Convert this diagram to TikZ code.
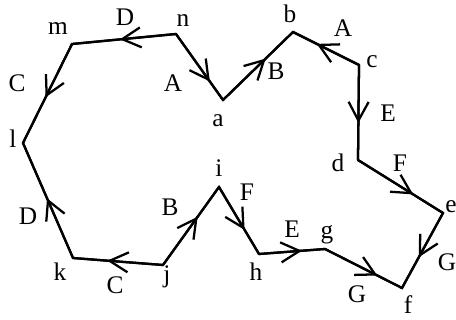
\documentclass[tikz,border=0pt]{standalone}
\usepackage{fontspec}
\setmainfont{Liberation Serif}
\usetikzlibrary{arrows.meta,decorations.markings}
\tikzset{flow/.style={postaction={decorate},
  decoration={markings,mark=at position #1 with {\arrow{Straight Barb[length=14pt,width=15pt]}}}},
  flow/.default=0.6,
  lbl/.style={font=\fontsize{19}{22}\selectfont,anchor=base,inner sep=0pt}}
\begin{document}
\begin{tikzpicture}[x=0.75pt,y=-0.75pt,line width=1.7pt]
\useasboundingbox (0,0) rectangle (456,320);
% corners of the loop
\coordinate (a) at (223,100);
\coordinate (b) at (293,32);
\coordinate (c) at (359,65);
\coordinate (d) at (358,160);
\coordinate (e) at (443,213);
\coordinate (f) at (402,288);
\coordinate (g) at (325,249);
\coordinate (h) at (259,254);
\coordinate (i) at (219,187);
\coordinate (j) at (163,265);
\coordinate (k) at (73,258);
\coordinate (l) at (23,143);
\coordinate (m) at (72,44);
\coordinate (n) at (176,34);
\draw (a)--(b)--(c)--(d)--(e)--(f)--(g)--(h)--(i)--(j)--(k)--(l)--(m)--(n)--cycle;
% directions
\draw[flow=0.54] (n)--(m);
\draw[flow=0.72] (n)--(a);
\draw[flow=0.61] (a)--(b);
\draw[flow=0.64] (c)--(b);
\draw[flow=0.61] (c)--(d);
\draw[flow=0.65] (d)--(e);
\draw[flow=0.59] (e)--(f);
\draw[flow=0.68] (g)--(f);
\draw[flow=0.65] (h)--(g);
\draw[flow=0.64] (i)--(h);
\draw[flow=0.62] (j)--(i);
\draw[flow=0.62] (j)--(k);
\draw[flow=0.52] (k)--(l);
\draw[flow=0.54] (m)--(l);
% corner labels
\node[lbl] (la) at (218,127) {a};
\node[lbl] (lb) at (290,23) {b};
\node[lbl] (lc) at (372,68) {c};
\node[lbl] (ld) at (338,172) {d};
\node[lbl] (le) at (451,212) {e};
\node[lbl] (lf) at (408,313) {f};
\node[lbl] (lg) at (327,238) {g};
\node[lbl] (lh) at (256,280) {h};
\node[lbl] (li) at (219,177) {i};
\node[lbl] (lj) at (167,282) {j};
\node[lbl] (lk) at (60,280) {k};
\node[lbl] (ll) at (13,148) {l};
\node[lbl] (lm) at (58,35) {m};
\node[lbl] (ln) at (183,27) {n};
% edge labels
\node[lbl] (nm) at (125,26) {D};
\node[lbl] (na) at (173,92) {A};
\node[lbl] (ml) at (17,92) {C};
\node[lbl] (cb) at (343,37) {A};
\node[lbl] (ab) at (276,80) {B};
\node[lbl] (cd) at (388,122) {E};
\node[lbl] (de) at (400,172) {F};
\node[lbl] (ef) at (447,270) {G};
\node[lbl] (gf) at (357,302) {G};
\node[lbl] (hg) at (292,237) {E};
\node[lbl] (ih) at (247,200) {F};
\node[lbl] (ji) at (170,215) {B};
\node[lbl] (jk) at (115,293) {C};
\node[lbl] (kl) at (28,224) {D};
\end{tikzpicture}
\end{document}
